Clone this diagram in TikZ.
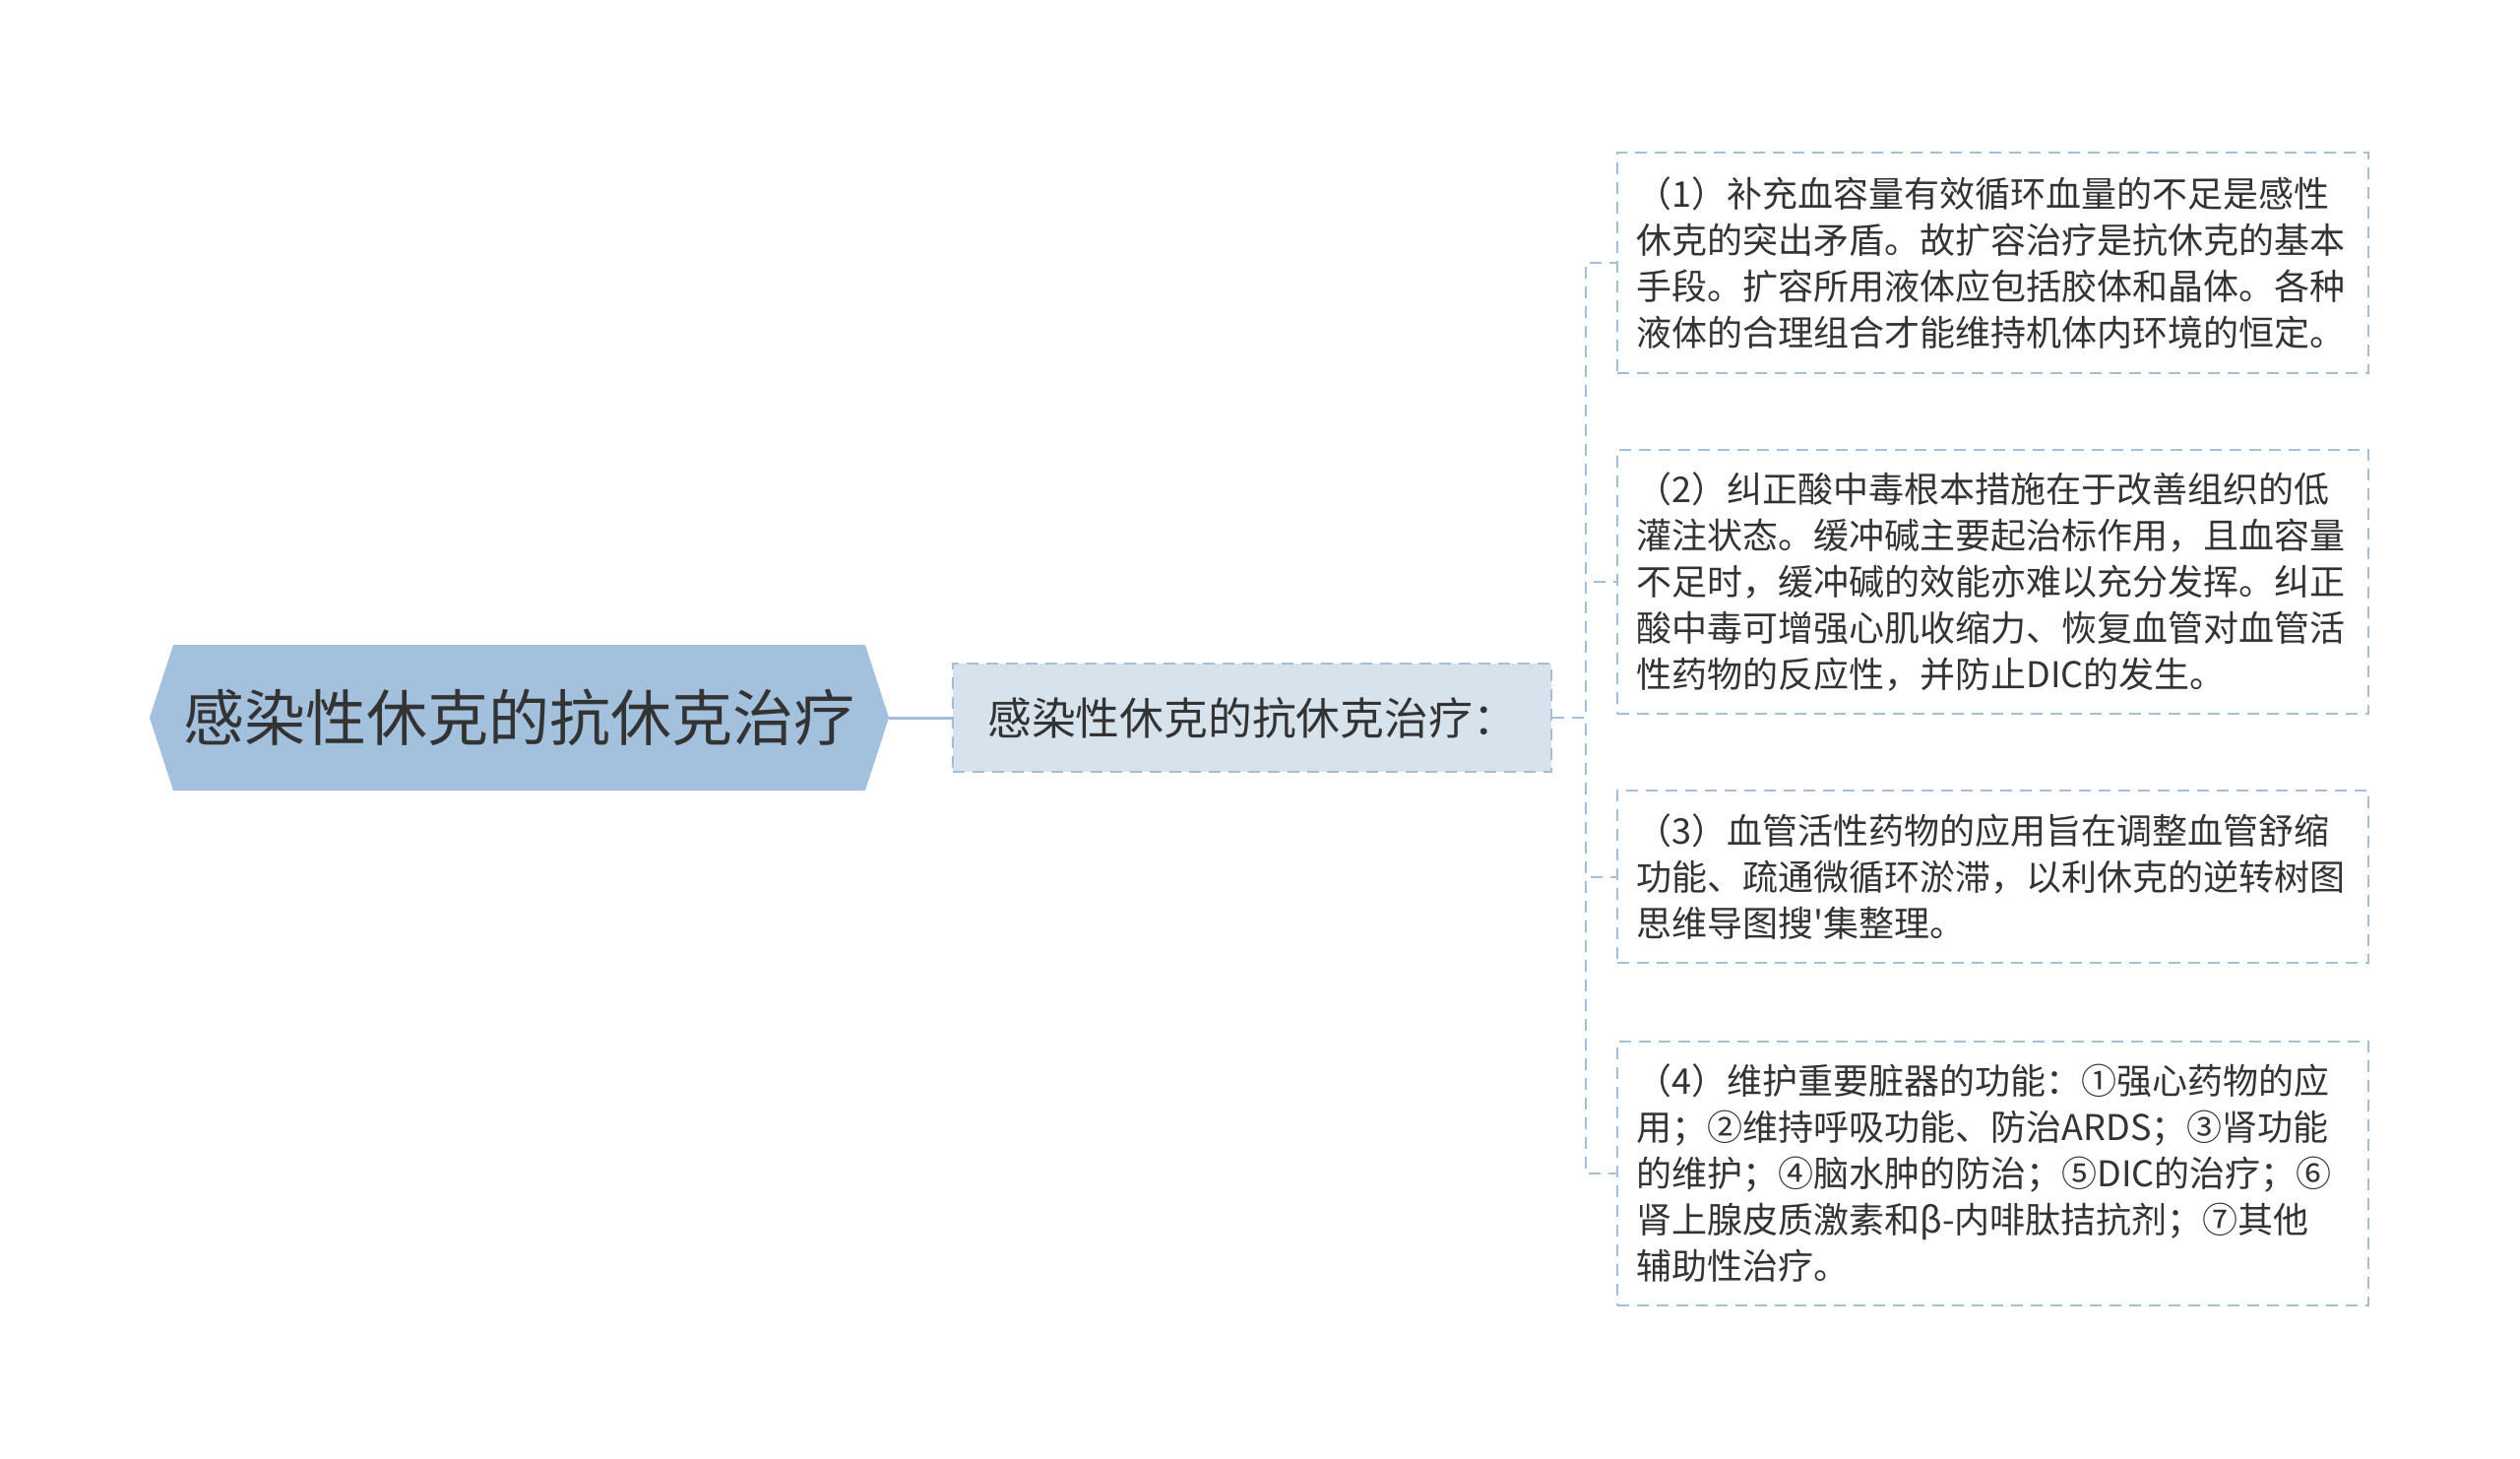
\documentclass[tikz,border=0pt]{standalone}
\usepackage{fontspec}
\setmainfont{Noto Sans CJK SC}[Ligatures=TeXOff]
\usetikzlibrary{shapes.symbols}

\definecolor{rootblue}{HTML}{A3C0DD}
\definecolor{midfill}{HTML}{D6E2EC}
\definecolor{edgeblue}{HTML}{A3BFD9}
\definecolor{txt}{HTML}{333333}

\begin{document}
\begin{tikzpicture}[x=0.5pt,y=-0.5pt,
        rootnode/.style={shape=signal,signal to=west and east,signal pointer angle=144,
            fill=rootblue,draw=none,text=txt,minimum width=375.5pt,minimum height=74pt,
            font=\fontsize{31}{36}\selectfont},
        midnode/.style={rectangle,fill=midfill,draw=edgeblue,line width=1pt,
            dash pattern=on 6pt off 4pt,text=txt,minimum width=304pt,minimum height=55pt,
            font=\fontsize{22.4}{26}\selectfont},
        leafnode/.style={rectangle,draw=edgeblue,line width=1pt,dash pattern=on 6pt off 4pt,
            text=txt,anchor=west,align=left,text width=362pt,inner xsep=9.75pt,
            font=\fontsize{18}{23.5}\selectfont},
        branch/.style={draw=edgeblue,line width=1pt,dash pattern=on 6pt off 4pt}]
    
            \useasboundingbox (0,0) rectangle (2560,1482);
            
            \node[rootnode] (root) at (527.5,729) {感染性休克的抗休克治疗};
            \node[midnode] (mid) at (1272,729) {感染性休克的抗休克治疗：\hspace{12pt}};
            
            \draw[edgeblue,line width=1.5pt] (root.east) -- (mid.west);
            
            % leaves
            \node[leafnode,minimum height=112pt] (leaf1) at (1642,267)
            {（1）补充血容量有效循环血量的不足是感性\\休克的突出矛盾。故扩容治疗是抗休克的基本\\手段。扩容所用液体应包括胶体和晶体。各种\\液体的合理组合才能维持机体内环境的恒定。};
            \node[leafnode,minimum height=134pt] (leaf2) at (1642,591)
            {（2）纠正酸中毒根本措施在于改善组织的低\\灌注状态。缓冲碱主要起治标作用，且血容量\\不足时，缓冲碱的效能亦难以充分发挥。纠正\\酸中毒可增强心肌收缩力、恢复血管对血管活\\性药物的反应性，并防止DIC的发生。};
            \node[leafnode,minimum height=87.5pt] (leaf3) at (1642,890.5)
            {（3）血管活性药物的应用旨在调整血管舒缩\\功能、疏通微循环淤滞，以利休克的逆转树图\\思维导图搜'集整理。};
            \node[leafnode,minimum height=134pt] (leaf4) at (1642,1192)
            {（4）维护重要脏器的功能：①强心药物的应\\用；②维持呼吸功能、防治ARDS；③肾功能\\的维护；④脑水肿的防治；⑤DIC的治疗；⑥\\肾上腺皮质激素和β-内啡肽拮抗剂；⑦其他\\辅助性治疗。};
            
            \foreach \n in {1,...,4}
                \draw[branch] (mid.east) -- ++(34,0) |- (leaf\n.west);
        
        \end{tikzpicture}
\end{document}
